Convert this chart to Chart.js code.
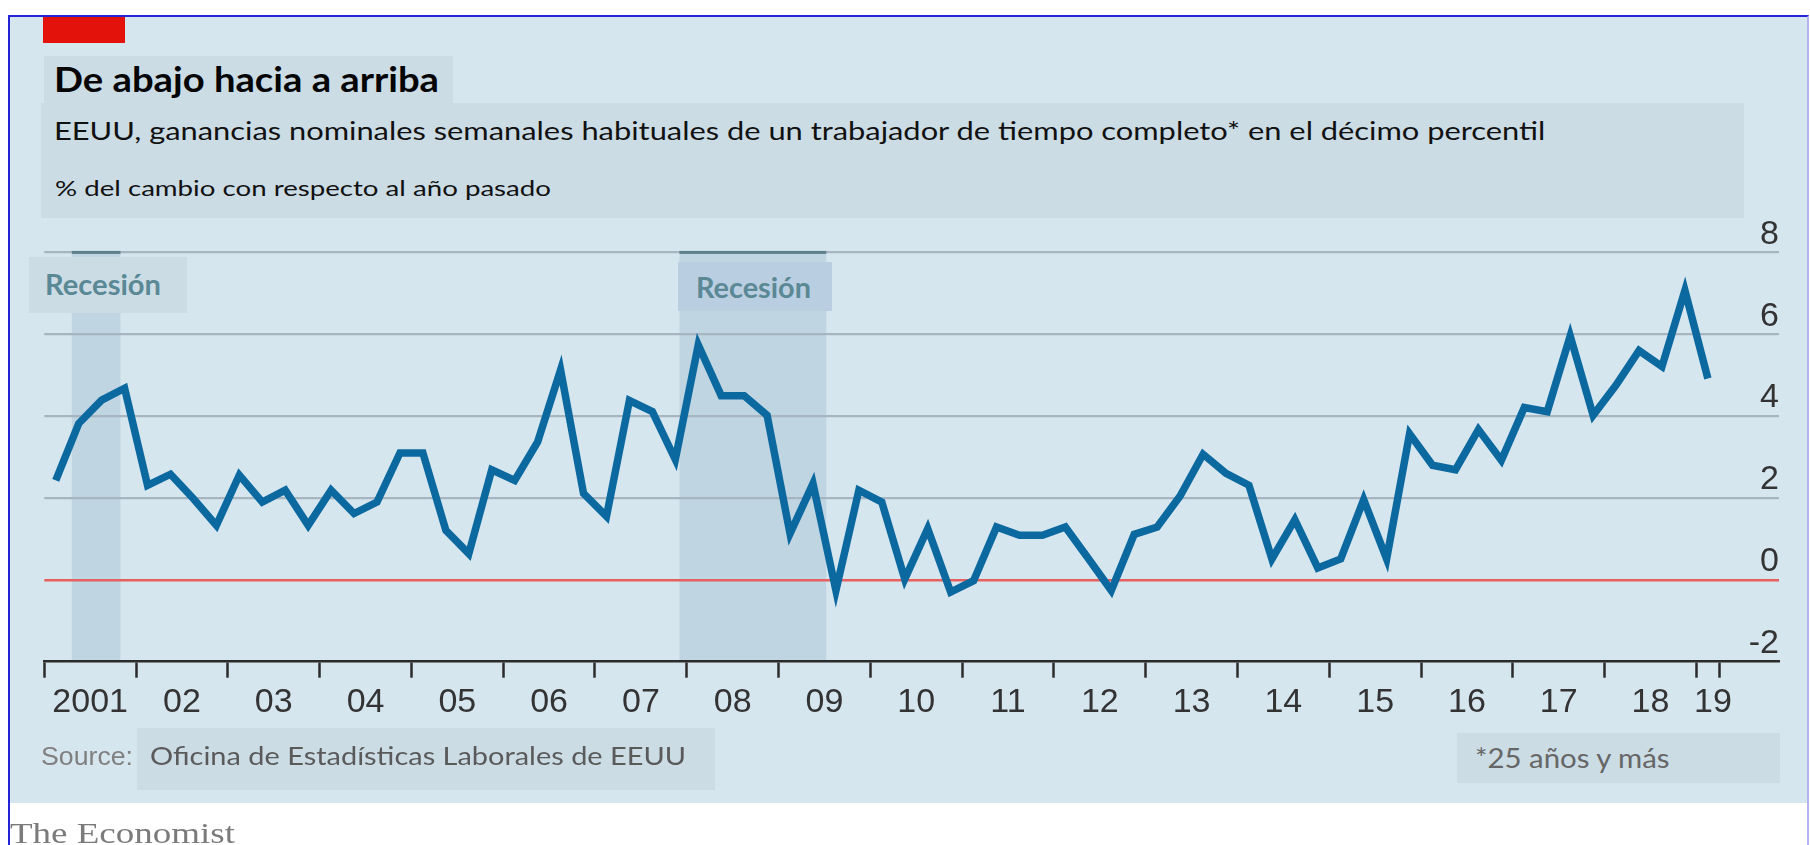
<!DOCTYPE html>
<html lang="es">
<head>
<meta charset="utf-8">
<title>De abajo hacia a arriba</title>
<script src="https://cdn.jsdelivr.net/npm/chart.js@4.4.1/dist/chart.umd.min.js"></script>
<style>
  html, body { margin: 0; padding: 0; background: #fff; }
  body { width: 1810px; height: 845px; position: relative; overflow: hidden; }
  .abs { position: absolute; }
  #marco { left: 8px; top: 15px; width: 1801px; height: 900px; box-sizing: border-box;
           border-top: 2px solid #2424d6; border-left: 2px solid #2424d6; border-right: 2px solid #b4b4ee; }
  #panel { left: 10px; top: 17px; width: 1797px; height: 786px; background: #d6e6ef; }
  #rojo { left: 43px; top: 17px; width: 82px; height: 26px; background: #e3120b; }
  .caja { position: absolute; background: #cbdce5; }
  .t { position: absolute; white-space: nowrap; transform-origin: 0 0; }
  #grafico { position: absolute; left: 0; top: 0; }
</style>
</head>
<body>
<div id="marco" class="abs"></div>
<div id="panel" class="abs"></div>
<div id="rojo" class="abs"></div>

<canvas id="grafico" width="1810" height="845"></canvas>

<div class="caja" style="left:44px;top:56px;width:409px;height:47px"></div>
<div class="caja" style="left:41px;top:103px;width:1703px;height:115px"></div>
<div class="caja" style="left:29px;top:257px;width:158px;height:56px"></div>
<div class="caja" style="left:678px;top:262px;width:154px;height:49px;background:#b9cfe1"></div>
<div class="caja" style="left:137px;top:728px;width:578px;height:62px"></div>
<div class="caja" style="left:1457px;top:733px;width:323px;height:50px"></div>

<span class="t" data-b="92" data-w="385" style="left:54px;font:700 34px Lato;color:#050505">De abajo hacia a arriba</span>
<span class="t" data-b="140" data-w="1492" style="left:54px;font:400 25px Lato;color:#111">EEUU, ganancias nominales semanales habituales de un trabajador de tiempo completo* en el décimo percentil</span>
<span class="t" data-b="196" data-w="496" style="left:55px;font:400 22px Lato;color:#111">% del cambio con respecto al año pasado</span>
<span class="t" data-b="295" data-w="116" style="left:45px;font:700 28px Lato;color:#5b8895">Recesión</span>
<span class="t" data-b="298" data-w="115" style="left:696px;font:700 28px Lato;color:#5b8895">Recesión</span>
<span class="t" data-b="765" data-w="92" style="left:41px;font:400 25px 'Liberation Sans';color:#808080">Source:</span>
<span class="t" data-b="765" data-w="536" style="left:150px;font:400 25px Lato;color:#5a5a5a">Oficina de Estadísticas Laborales de EEUU</span>
<span class="t" data-b="768" data-w="196" style="left:1475px;font:400 26px Lato;color:#666">*25 años y más</span>
<span class="t" data-b="843" data-w="225" style="left:10px;font:400 30px 'Liberation Serif';color:#7b7b7b">The Economist</span>

<script>
// Datos: variacion anual (%), trimestral, 2001 T1 - 2019 T1
const primerAnio = 2001;
const ultimoAnio = 2019;
const valores = [
  2.43, 3.82, 4.39, 4.68,   // 2001
  2.31, 2.58, 1.98, 1.33,   // 2002
  2.56, 1.90, 2.19, 1.33,   // 2003
  2.19, 1.62, 1.90, 3.10,   // 2004
  3.10, 1.21, 0.64, 2.69,   // 2005
  2.43, 3.37, 5.13, 2.11,   // 2006
  1.55, 4.38, 4.11, 2.94,   // 2007
  5.74, 4.50, 4.50, 4.02,   // 2008
  1.13, 2.35, -0.26, 2.19,  // 2009
  1.90, 0.02, 1.25, -0.30,  // 2010
  -0.02, 1.29, 1.09, 1.09,  // 2011
  1.29, 0.52, -0.26, 1.11,  // 2012
  1.29, 2.05, 3.07, 2.60,   // 2013
  2.31, 0.51, 1.47, 0.29,   // 2014
  0.51, 1.96, 0.51, 3.57,   // 2015
  2.80, 2.69, 3.67, 2.92,   // 2016
  4.21, 4.11, 5.96, 4.02,   // 2017
  4.76, 5.60, 5.21, 7.07,   // 2018
  4.92                      // 2019
];
const etiquetasAnio = ['2001', '02', '03', '04', '05', '06', '07', '08', '09', '10',
                       '11', '12', '13', '14', '15', '16', '17', '18', '19'];
const ticksY = [-2, 0, 2, 4, 6, 8];
const recesionInicio = [2001.30, 2007.92];
const recesionFin = [2001.83, 2009.52];

const colores = {
    linea: '#0c69a0',
    rejilla: '#a6b5bf',
    cero: '#e4615f',
    eje: '#2b2b2b',
    sombra: '#bfd5e2',
    barraRecesion: '#5f7f8e',
    texto: '#333333'
};

// Coloca los textos HTML por su linea base y ajusta el ancho
function colocarTextos() {
    const c = document.createElement('canvas').getContext('2d');
    document.querySelectorAll('.t').forEach(el => {
        const cs = getComputedStyle(el);
        const size = parseFloat(cs.fontSize);
        c.font = cs.fontWeight + ' ' + size + 'px ' + cs.fontFamily;
        const m = c.measureText(el.textContent);
        const a = m.fontBoundingBoxAscent, d = m.fontBoundingBoxDescent;
        el.style.lineHeight = size + 'px';
        el.style.top = (+el.dataset.b - ((size - a - d) / 2 + a)) + 'px';
        const w = +el.dataset.w;
        if (w) el.style.transform = 'scaleX(' + (w / m.width) + ')';
    });
}

// Sombreado de las recesiones
const recesiones = {
    id: 'recesiones',
    beforeDraw(chart) {
        const { ctx, chartArea, scales: { x } } = chart;
        ctx.save();
        ctx.fillStyle = colores.sombra;
        recesionInicio.forEach((ini, i) => {
            const x0 = x.getPixelForValue(ini);
            const x1 = x.getPixelForValue(recesionFin[i]);
            ctx.fillRect(x0, chartArea.top, x1 - x0, chartArea.bottom - chartArea.top);
        });
        ctx.restore();
    },
    beforeDatasetsDraw(chart) {
        const { ctx, chartArea, scales: { x } } = chart;
        ctx.save();
        ctx.fillStyle = colores.barraRecesion;
        recesionInicio.forEach((ini, i) => {
            const x0 = x.getPixelForValue(ini);
            const x1 = x.getPixelForValue(recesionFin[i]);
            ctx.fillRect(x0, chartArea.top - 1.5, x1 - x0, 3);
        });
        ctx.restore();
    }
};

document.addEventListener('DOMContentLoaded', () => {
    colocarTextos();

    const puntos = valores.map((v, i) => ({ x: primerAnio + (i + 0.5) / 4, y: v }));

    // ticks del eje x: marcas en cada anio y etiquetas en el centro
    const ticksX = [];
    for (let a = primerAnio; a <= ultimoAnio; a++) ticksX.push({ value: a, marca: true, texto: '' });
    ticksX.push({ value: ultimoAnio + 0.25, marca: true, texto: '' });
    etiquetasAnio.forEach((et, i) => {
        const centro = i < etiquetasAnio.length - 1 ? primerAnio + i + 0.5 : primerAnio + i + 0.18;
        ticksX.push({ value: centro, marca: false, texto: et });
    });
    ticksX.sort((p, q) => p.value - q.value);

    new Chart(document.getElementById('grafico').getContext('2d'), {
        type: 'line',
        data: {
            datasets: [{
                data: puntos,
                borderColor: colores.linea,
                borderWidth: 7.5,
                pointRadius: 0,
                tension: 0,
                fill: false
            }]
        },
        plugins: [recesiones],
        options: {
            responsive: false,
            animation: false,
            devicePixelRatio: 1,
            layout: { padding: { left: 44.3, right: 31, top: 252.4, bottom: 113.3 } },
            plugins: { legend: { display: false }, tooltip: { enabled: false } },
            scales: {
                x: {
                    type: 'linear',
                    min: primerAnio,
                    max: 2019.9,
                    afterBuildTicks: s => { s.ticks = ticksX.map(t => Object.assign({}, t)); },
                    afterFit: s => { s.height = 70; },
                    grid: {
                        drawOnChartArea: false,
                        drawTicks: true,
                        tickLength: 16,
                        tickWidth: 2.5,
                        tickColor: c => (c.tick && c.tick.marca) ? colores.eje : 'rgba(0,0,0,0)'
                    },
                    border: { display: true, color: colores.eje, width: 2.5 },
                    ticks: {
                        autoSkip: false,
                        maxRotation: 0,
                        padding: 5,
                        color: colores.texto,
                        font: { family: 'Liberation Sans', size: 34 },
                        callback: (v, i, t) => t[i].texto
                    }
                },
                y: {
                    type: 'linear',
                    position: 'right',
                    min: -2,
                    max: 8,
                    afterBuildTicks: s => { s.ticks = ticksY.map(v => ({ value: v })); },
                    afterFit: s => { s.width = 0; },
                    grid: {
                        drawTicks: false,
                        color: c => c.tick.value === 0 ? colores.cero : (c.tick.value === -2 ? 'rgba(0,0,0,0)' : colores.rejilla),
                        lineWidth: c => c.tick.value === 0 ? 2.6 : 2.2
                    },
                    border: { display: false },
                    ticks: {
                        mirror: true,
                        padding: 0,
                        crossAlign: 'near',
                        labelOffset: -18,
                        color: colores.texto,
                        font: { family: 'Liberation Sans', size: 34 }
                    }
                }
            }
        }
    });
});
</script>
</body>
</html>
